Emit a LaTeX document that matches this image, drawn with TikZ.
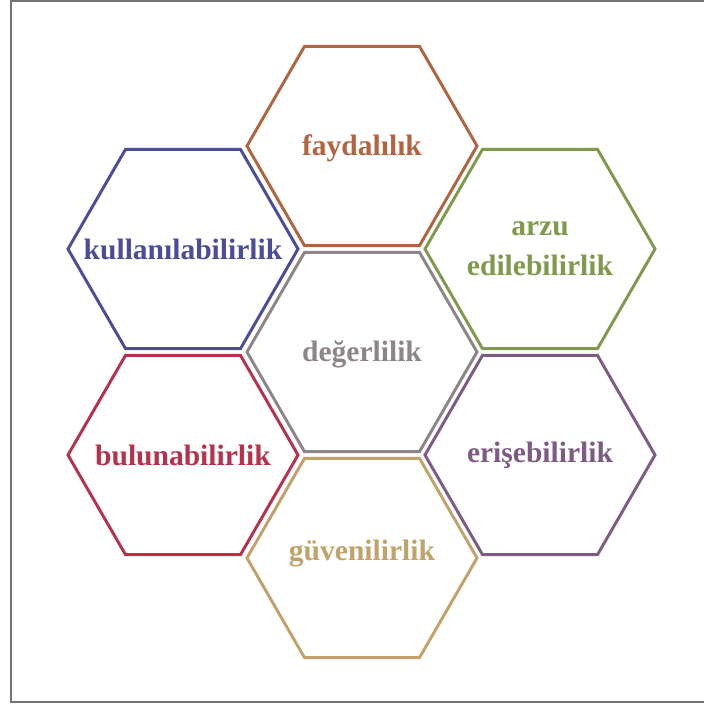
\documentclass[tikz,border=0pt]{standalone}
\usepackage{fontspec}
\setmainfont{Liberation Serif}
\usetikzlibrary{shapes.geometric}

\definecolor{fayda}{HTML}{B1643F}
\definecolor{kullan}{HTML}{4B4D9B}
\definecolor{arzu}{HTML}{7F9A4C}
\definecolor{deger}{HTML}{8E8686}
\definecolor{bulun}{HTML}{B7304C}
\definecolor{erisim}{HTML}{7E5B82}
\definecolor{guven}{HTML}{C1A26A}

\tikzset{
  hexa/.style={regular polygon, regular polygon sides=6, minimum size=5.75cm,
    inner sep=0pt, line width=2.1pt, draw=#1},
  etiket/.style={text=#1, align=center, font=\bfseries\fontsize{21}{28.5}\selectfont}
}

\begin{document}
\begin{tikzpicture}[x=0.025cm,y=-0.025cm]
        \useasboundingbox (0,0) rectangle (704,704);
        \draw[line width=0.9pt,color=black!55] (704,1) -- (11,1) -- (11,702) -- (704,702);
        \node[hexa=fayda] (faydalilik) at (362,146) {};
        \node[hexa=kullan] (kullanilabilirlik) at (183,249) {};
        \node[hexa=arzu] (arzu) at (540,249) {};
        \node[hexa=deger] (degerlilik) at (362,352) {};
        \node[hexa=bulun] (bulunabilirlik) at (183,455) {};
        \node[hexa=erisim] (erisebilirlik) at (540,455) {};
        \node[hexa=guven] (guvenilirlik) at (362,558) {};
        \node[etiket=fayda] at ([yshift=-0.05cm]faydalilik.center) {faydalılık};
        \node[etiket=kullan] at (kullanilabilirlik) {kullanılabilirlik};
        \node[etiket=arzu] at (arzu) {arzu\\edilebilirlik};
        \node[etiket=deger] at ([yshift=-0.05cm]degerlilik.center) {değerlilik};
        \node[etiket=bulun] at (bulunabilirlik) {bulunabilirlik};
        \node[etiket=erisim] at (erisebilirlik) {erişebilirlik};
        \node[etiket=guven] at ([yshift=0.12cm]guvenilirlik.center) {güvenilirlik};
    \end{tikzpicture}
\end{document}
